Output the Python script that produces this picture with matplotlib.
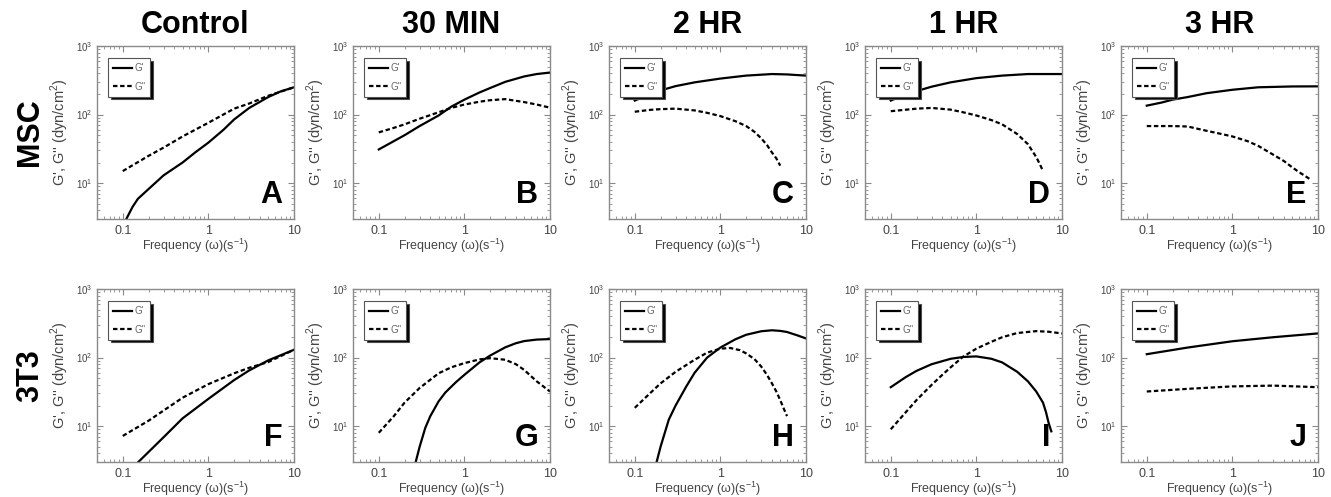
import numpy as np
import matplotlib
matplotlib.use('Agg')
import matplotlib.pyplot as plt
from matplotlib.ticker import LogLocator, FixedLocator, FixedFormatter, NullFormatter

plt.rcParams['font.family'] = ['Liberation Sans', 'DejaVu Sans']
plt.rcParams['mathtext.fontset'] = 'custom'
plt.rcParams['mathtext.rm'] = 'Liberation Sans'

col_titles = ['Control', '30 MIN', '2 HR', '1 HR', '3 HR']
row_titles = ['MSC', '3T3']
letters = ['A', 'B', 'C', 'D', 'E', 'F', 'G', 'H', 'I', 'J']

# G' (storage) and G'' (loss) moduli
# MSC row
A_x1 = [0.11, 0.13, 0.15, 0.2, 0.3, 0.5, 0.7, 1, 1.5, 2, 3, 5, 7, 10]
A_g1 = [3, 4.5, 5.9, 8.2, 13, 20, 28, 39, 60, 85, 125, 180, 218, 250]
A_x2 = [0.1, 0.2, 0.3, 0.5, 1, 2, 3, 5, 10]
A_g2 = [15, 25, 33, 48, 76, 122, 145, 188, 250]

B_x1 = [0.1, 0.15, 0.2, 0.3, 0.5, 0.7, 1, 1.5, 2, 3, 5, 7, 10]
B_g1 = [31, 41, 50, 68, 97, 130, 165, 210, 244, 300, 360, 390, 410]
B_x2 = [0.1, 0.15, 0.2, 0.3, 0.5, 0.7, 1, 1.5, 2, 3, 5, 7, 10]
B_g2 = [55, 64, 72, 87, 108, 125, 140, 154, 162, 168, 152, 140, 126]

C_x1 = [0.1, 0.15, 0.2, 0.3, 0.5, 1, 2, 4, 6, 10]
C_g1 = [160, 200, 225, 260, 295, 335, 370, 390, 385, 370]
C_x2 = [0.1, 0.15, 0.2, 0.3, 0.5, 0.7, 1, 1.5, 2, 2.5, 3, 3.5, 4, 4.5, 5]
C_g2 = [110, 117, 120, 122, 115, 106, 95, 80, 68, 56, 45, 36, 28, 23, 18]

D_x1 = [0.1, 0.15, 0.2, 0.3, 0.5, 1, 2, 4, 6, 10]
D_g1 = [160, 200, 220, 255, 295, 340, 370, 390, 390, 390]
D_x2 = [0.1, 0.2, 0.3, 0.5, 0.7, 1, 1.5, 2, 3, 4, 5, 5.5, 6]
D_g2 = [112, 122, 125, 118, 108, 97, 83, 72, 52, 37, 24, 19, 15]

E_x1 = [0.1, 0.15, 0.2, 0.3, 0.5, 1, 2, 5, 10]
E_g1 = [135, 150, 165, 180, 205, 230, 250, 257, 258]
E_x2 = [0.1, 0.2, 0.3, 0.5, 0.7, 1, 1.5, 2, 3, 4, 5, 6, 7, 8]
E_g2 = [68, 68, 67, 58, 53, 48, 41, 35, 26, 21, 17, 14.5, 12.8, 11.5]

# 3T3 row
F_x1 = [0.152, 0.2, 0.3, 0.5, 1, 2, 3, 5, 10]
F_g1 = [3, 4.2, 6.9, 13, 25, 47, 65, 91, 130]
F_x2 = [0.1, 0.2, 0.5, 1, 2, 3, 5, 10]
F_g2 = [7.2, 12, 26, 41, 59, 71, 86, 130]

G_x1 = [0.27, 0.3, 0.35, 0.4, 0.5, 0.6, 0.8, 1, 1.5, 2, 3, 4, 5, 7, 10]
G_g1 = [3, 5, 9.5, 14, 23, 31, 44, 56, 85, 107, 141, 162, 174, 183, 186]
G_x2 = [0.1, 0.15, 0.2, 0.3, 0.5, 0.7, 1, 1.5, 2, 3, 4, 5, 7, 10]
G_g2 = [8, 14, 22, 36, 59, 72, 83, 94, 98, 93, 80, 66, 45, 32]

H_x1 = [0.18, 0.2, 0.25, 0.3, 0.4, 0.5, 0.7, 1, 1.5, 2, 3, 4, 5, 6, 8, 10]
H_g1 = [3, 5, 12.5, 20, 38, 60, 100, 140, 185, 215, 242, 250, 245, 236, 210, 190]
H_x2 = [0.1, 0.15, 0.2, 0.3, 0.5, 0.7, 1, 1.3, 1.7, 2, 2.5, 3, 3.5, 4, 4.5, 5, 5.5, 6]
H_g2 = [18.5, 30, 42, 62, 93, 118, 135, 138, 128, 115, 95, 74, 56, 42, 32, 24, 18, 14]

I_x1 = [0.1, 0.15, 0.2, 0.3, 0.5, 0.7, 1, 1.5, 2, 3, 4, 5, 6, 6.5, 7, 7.5]
I_g1 = [37, 52, 64, 80, 96, 102, 104, 96, 85, 62, 45, 32, 22, 16, 11, 8.4]
I_x2 = [0.1, 0.15, 0.2, 0.3, 0.4, 0.5, 0.7, 1, 1.5, 2, 3, 5, 7, 10]
I_g2 = [9, 16, 24, 40, 56, 72, 103, 135, 170, 198, 228, 243, 238, 225]

J_x1 = [0.1, 0.3, 1, 3, 10]
J_g1 = [112, 140, 173, 198, 225]
J_x2 = [0.1, 0.3, 1, 3, 10]
J_g2 = [32, 35, 38, 39, 37]

panels = [
    (A_x1, A_g1, A_x2, A_g2), (B_x1, B_g1, B_x2, B_g2), (C_x1, C_g1, C_x2, C_g2),
    (D_x1, D_g1, D_x2, D_g2), (E_x1, E_g1, E_x2, E_g2),
    (F_x1, F_g1, F_x2, F_g2), (G_x1, G_g1, G_x2, G_g2), (H_x1, H_g1, H_x2, H_g2),
    (I_x1, I_g1, I_x2, I_g2), (J_x1, J_g1, J_x2, J_g2),
]

W, H = 1331, 497
fig = plt.figure(figsize=(W / 100, H / 100), dpi=100)

lefts = [97, 353, 609, 865, 1121]
tops = [46, 289]
aw, ah = 197, 173
frame = '#8a8a8a'
txt = '#444444'

for k, (x1, g1, x2, g2) in enumerate(panels):
    r, c = divmod(k, 5)
    ax = fig.add_axes([lefts[c] / W, 1 - (tops[r] + ah) / H, aw / W, ah / H])
    ax.set_xscale('log')
    ax.set_yscale('log')
    ax.plot(x1, g1, color='black', lw=1.6, label="G'")
    ax.plot(x2, g2, color='black', lw=1.6, ls=(0, (2, 1.2)), label="G''")
    ax.set_xlim(0.05, 10)
    ax.set_ylim(3, 1000)

    ax.xaxis.set_major_locator(FixedLocator([0.1, 1, 10]))
    ax.xaxis.set_major_formatter(FixedFormatter(['0.1', '1', '10']))
    ax.xaxis.set_minor_locator(LogLocator(base=10, subs=np.arange(2, 10)))
    ax.xaxis.set_minor_formatter(NullFormatter())
    ax.yaxis.set_major_locator(FixedLocator([10, 100, 1000]))
    ax.yaxis.set_major_formatter(FixedFormatter([r'10$^{1}$', r'10$^{2}$', r'10$^{3}$']))
    ax.yaxis.set_minor_locator(LogLocator(base=10, subs=np.arange(2, 10)))
    ax.yaxis.set_minor_formatter(NullFormatter())

    ax.tick_params(which='both', direction='in', top=True, right=True, color=frame)
    ax.tick_params(which='major', length=4, width=0.8)
    ax.tick_params(which='minor', length=2, width=0.6)
    ax.tick_params(axis='x', labelsize=9, labelcolor=txt, pad=4)
    ax.tick_params(axis='y', labelsize=7, labelcolor=txt, pad=3)
    for s in ax.spines.values():
        s.set_color(frame)
        s.set_linewidth(1.0)

    ax.set_xlabel('Frequency (ω)(s$^{-1}$)', fontsize=9, color=txt, labelpad=0)
    ax.set_ylabel(r"G', G'' (dyn/cm$^{2}$)", fontsize=10.5, color=txt, labelpad=4)

    leg = ax.legend(loc='upper left', bbox_to_anchor=(0.055, 0.93), fontsize=7,
                    frameon=True, fancybox=False, shadow={'facecolor': 'black', 'alpha': 1},
                    handlelength=2.0, handletextpad=0.2, labelspacing=0.9,
                    borderpad=0.5, borderaxespad=0)
    leg.get_frame().set_edgecolor('#555555')
    leg.get_frame().set_linewidth(0.8)
    for t in leg.get_texts():
        t.set_color('#666666')

    ax.text(0.94, 0.05, letters[k], transform=ax.transAxes, ha='right', va='bottom',
            fontsize=22, fontweight='bold')

    if r == 0:
        fig.text((lefts[c] + aw / 2) / W, 1 - 25 / H, col_titles[c], ha='center',
                 va='center', fontsize=22, fontweight='bold')

for r in range(2):
    fig.text(30 / W, 1 - (tops[r] + ah / 2) / H, row_titles[r], rotation=90,
             ha='center', va='center', fontsize=22, fontweight='bold')

fig.savefig('out.png', dpi=100)
